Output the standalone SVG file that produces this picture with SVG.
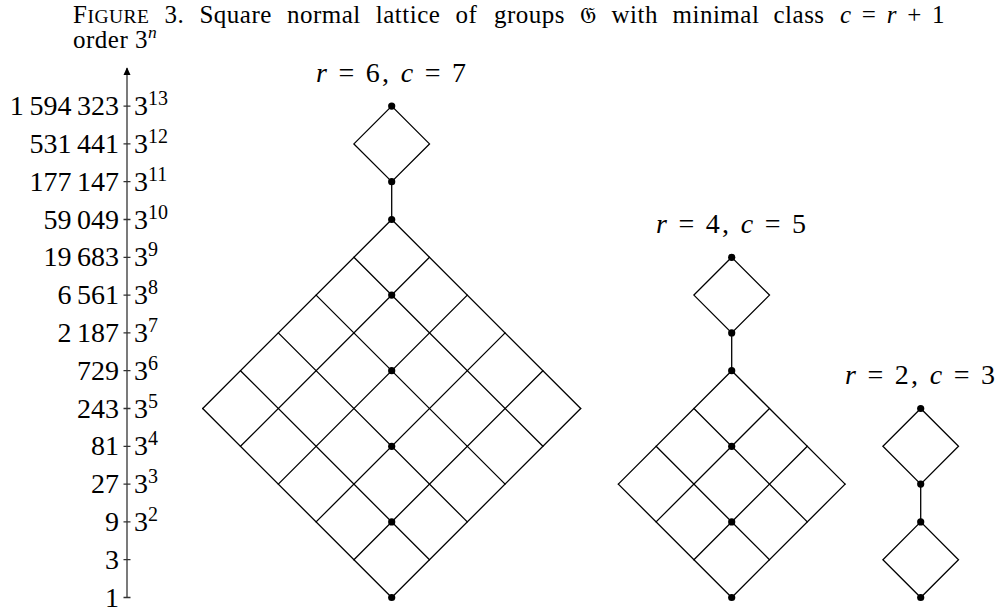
<svg xmlns="http://www.w3.org/2000/svg" width="1000" height="612" viewBox="0 0 1000 612">
<defs>
<style>
.t{font-family:"Liberation Serif","DejaVu Serif",serif;fill:#000}
.cap{font-size:25px;letter-spacing:0.5px}
.fig{font-size:28px}
.it{font-style:italic}
.ln{stroke:#000;stroke-width:1.3;fill:none;stroke-linecap:round}
.ax{stroke:#333;stroke-width:1.3;fill:none}
.dot{fill:#000}
</style>
<marker id="arr" viewBox="0 0 10 10" refX="9" refY="5" markerWidth="8" markerHeight="8" markerUnits="userSpaceOnUse" orient="auto"><path d="M0,0.5 L10,5 L0,9.5 z" fill="#000"/></marker>
</defs>
<rect width="1000" height="612" fill="#fff"/>

<g id="caption" class="t cap">
<text x="73" y="22.5">F<tspan font-size="19.5">IGURE</tspan></text>
<text x="164.6" y="22.5">3.</text>
<text x="199.4" y="22.5">Square</text>
<text x="286.9" y="22.5">normal</text>
<text x="375.8" y="22.5">lattice</text>
<text x="455.4" y="22.5">of</text>
<text x="494" y="22.5">groups</text>
<text x="580" y="22.5" font-family="DejaVu Serif, DejaVu Sans, serif" font-size="23">𝔊</text>
<text x="611.5" y="22.5">with</text>
<text x="672.5" y="22.5">minimal</text>
<text x="773.5" y="22.5">class</text>
<text x="840" y="22.5" textLength="105" lengthAdjust="spacing"><tspan class="it">c</tspan> = <tspan class="it">r</tspan> + 1</text>
<text x="73" y="47.5">order 3<tspan font-size="17.5" class="it" dy="-10">n</tspan></text>
</g>

<g id="axis">
<line class="ax" x1="127" y1="597.5" x2="127" y2="68" marker-end="url(#arr)"/>
<path class="ax" d="M123.5,597.5h7M123.5,559.7h7M123.5,521.9h7M123.5,484.1h7M123.5,446.3h7M123.5,408.5h7M123.5,370.7h7M123.5,332.9h7M123.5,295.1h7M123.5,257.3h7M123.5,219.5h7M123.5,181.7h7M123.5,143.9h7M123.5,106.1h7"/>
<g class="t fig" text-anchor="end">
<text x="119" y="606.5">1</text>
<text x="119" y="568.7">3</text>
<text x="119" y="530.9">9</text>
<text x="119" y="493.1">27</text>
<text x="119" y="455.3">81</text>
<text x="119" y="417.5">243</text>
<text x="119" y="379.7">729</text>
<text x="119" y="341.9">2&#8201;187</text>
<text x="119" y="304.1">6&#8201;561</text>
<text x="119" y="266.3">19&#8201;683</text>
<text x="119" y="228.5">59&#8201;049</text>
<text x="119" y="190.7">177&#8201;147</text>
<text x="119" y="152.9">531&#8201;441</text>
<text x="119" y="115.1">1&#8201;594&#8201;323</text>
</g>
<g class="t fig">
<text x="134" y="530.9">3<tspan font-size="20" dy="-10">2</tspan></text>
<text x="134" y="493.1">3<tspan font-size="20" dy="-10">3</tspan></text>
<text x="134" y="455.3">3<tspan font-size="20" dy="-10">4</tspan></text>
<text x="134" y="417.5">3<tspan font-size="20" dy="-10">5</tspan></text>
<text x="134" y="379.7">3<tspan font-size="20" dy="-10">6</tspan></text>
<text x="134" y="341.9">3<tspan font-size="20" dy="-10">7</tspan></text>
<text x="134" y="304.1">3<tspan font-size="20" dy="-10">8</tspan></text>
<text x="134" y="266.3">3<tspan font-size="20" dy="-10">9</tspan></text>
<text x="134" y="228.5">3<tspan font-size="20" dy="-10">10</tspan></text>
<text x="134" y="190.7">3<tspan font-size="20" dy="-10">11</tspan></text>
<text x="134" y="152.9">3<tspan font-size="20" dy="-10">12</tspan></text>
<text x="134" y="115.1">3<tspan font-size="20" dy="-10">13</tspan></text>
</g>
</g>

<g id="labels" class="t fig" text-anchor="middle">
<text x="391" y="82" textLength="150" lengthAdjust="spacing"><tspan class="it">r</tspan> = 6, <tspan class="it">c</tspan> = 7</text>
<text x="731" y="233" textLength="150" lengthAdjust="spacing"><tspan class="it">r</tspan> = 4, <tspan class="it">c</tspan> = 5</text>
<text x="920" y="384" textLength="150" lengthAdjust="spacing"><tspan class="it">r</tspan> = 2, <tspan class="it">c</tspan> = 3</text>
</g>

<g id="connectors">
<path class="ln" d="M391.7,106.1L353.9,143.9L391.7,181.7L429.5,143.9Z"/>
<path class="ln" d="M391.7,181.7V219.5"/>
<path class="ln" d="M391.7,219.5L202.7,408.5M429.5,257.3L240.5,446.3M467.3,295.1L278.3,484.1M505.1,332.9L316.1,521.9M542.9,370.7L353.9,559.7M580.7,408.5L391.7,597.5"/>
<path class="ln" d="M391.7,219.5L580.7,408.5M353.9,257.3L542.9,446.3M316.1,295.1L505.1,484.1M278.3,332.9L467.3,521.9M240.5,370.7L429.5,559.7M202.7,408.5L391.7,597.5"/>
<path class="ln" d="M731.7,257.3L693.9,295.1L731.7,332.9L769.5,295.1Z"/>
<path class="ln" d="M731.7,332.9V370.7"/>
<path class="ln" d="M731.7,370.7L618.3,484.1M769.5,408.5L656.1,521.9M807.3,446.3L693.9,559.7M845.1,484.1L731.7,597.5"/>
<path class="ln" d="M731.7,370.7L845.1,484.1M693.9,408.5L807.3,521.9M656.1,446.3L769.5,559.7M618.3,484.1L731.7,597.5"/>
<path class="ln" d="M920.7,408.5L882.9,446.3L920.7,484.1L958.5,446.3Z"/>
<path class="ln" d="M920.7,484.1V521.9"/>
<path class="ln" d="M920.7,521.9L882.9,559.7L920.7,597.5L958.5,559.7Z"/>
</g>

<g id="nodes">
<g id="r6-nodes">
<circle class="dot" cx="391.7" cy="106.1" r="3.6"/>
<circle class="dot" cx="391.7" cy="181.7" r="3.6"/>
<circle class="dot" cx="391.7" cy="219.5" r="3.6"/>
<circle class="dot" cx="391.7" cy="295.1" r="3.6"/>
<circle class="dot" cx="391.7" cy="370.7" r="3.6"/>
<circle class="dot" cx="391.7" cy="446.3" r="3.6"/>
<circle class="dot" cx="391.7" cy="521.9" r="3.6"/>
<circle class="dot" cx="391.7" cy="597.5" r="3.6"/>
</g>
<g id="r4-nodes">
<circle class="dot" cx="731.7" cy="257.3" r="3.6"/>
<circle class="dot" cx="731.7" cy="332.9" r="3.6"/>
<circle class="dot" cx="731.7" cy="370.7" r="3.6"/>
<circle class="dot" cx="731.7" cy="446.3" r="3.6"/>
<circle class="dot" cx="731.7" cy="521.9" r="3.6"/>
<circle class="dot" cx="731.7" cy="597.5" r="3.6"/>
</g>
<g id="r2-nodes">
<circle class="dot" cx="920.7" cy="408.5" r="3.6"/>
<circle class="dot" cx="920.7" cy="484.1" r="3.6"/>
<circle class="dot" cx="920.7" cy="521.9" r="3.6"/>
<circle class="dot" cx="920.7" cy="597.5" r="3.6"/>
</g>
</g>
</svg>
